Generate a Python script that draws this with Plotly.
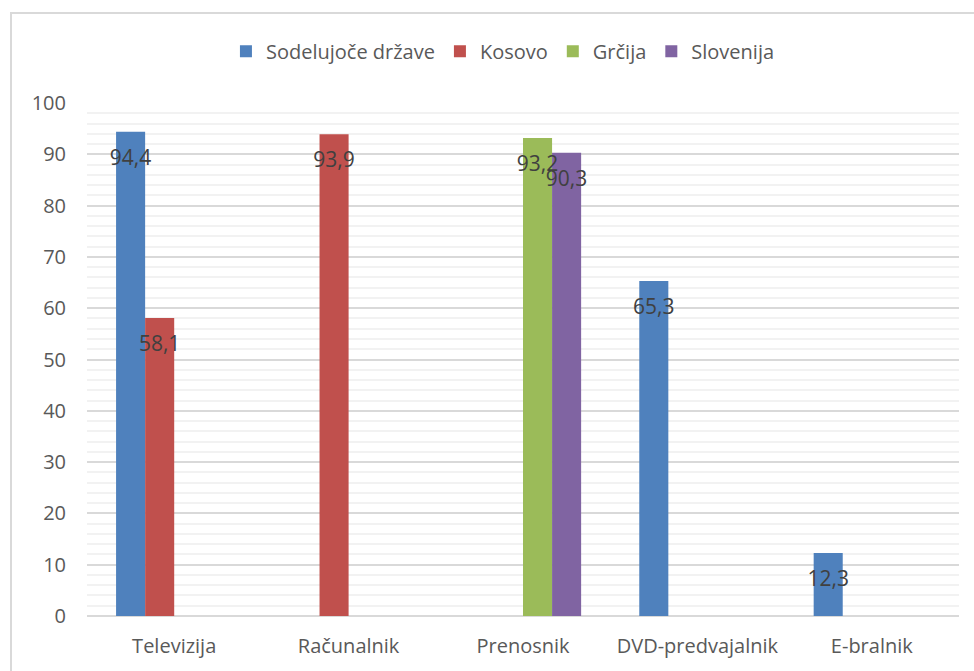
import plotly.graph_objects as go

categories = ["Televizija", "Računalnik", "Prenosnik", "DVD-predvajalnik", "E-bralnik"]
series_names = ["Sodelujoče države", "Kosovo", "Grčija", "Slovenija"]
sodelujoce = [94.4, None, None, 65.3, 12.3]
kosovo = [58.1, 93.9, None, None, None]
grcija = [None, None, 93.2, None, None]
slovenija = [None, None, 90.3, None, None]
series_values = [sodelujoce, kosovo, grcija, slovenija]
colors = ["#4F81BD", "#C0504D", "#9BBB59", "#8064A2"]
y_ticks = [0, 10, 20, 30, 40, 50, 60, 70, 80, 90, 100]

FONT = "Open Sans"
BARGAP = 1 / 3


def fmt(v):
    return "" if v is None else f"{v:.1f}".replace(".", ",")


fig = go.Figure()
for i, (name, vals) in enumerate(zip(series_names, series_values)):
    fig.add_trace(go.Bar(
        x=categories, y=vals, name=name, marker_color=colors[i],
        marker_line_width=0, offsetgroup=str(i),
    ))
for i, (name, vals) in enumerate(zip(series_names, series_values)):
    fig.add_trace(go.Scatter(
        x=categories, y=vals, mode="markers+text",
        text=[fmt(v) for v in vals], textposition="bottom center",
        textfont=dict(family=FONT, size=21, color="#404040"),
        marker=dict(size=26, color="rgba(0,0,0,0)"),
        offsetgroup=str(i), showlegend=False, hoverinfo="skip",
    ))

fig.update_layout(
    width=974, height=671,
    margin=dict(l=87, r=15, t=103, b=55),
    paper_bgcolor="white", plot_bgcolor="white",
    barmode="group", bargap=BARGAP, bargroupgap=0,
    scattermode="group", scattergap=BARGAP,
    font=dict(family=FONT, size=20, color="#595959"),
    legend=dict(orientation="h", x=0.477, xanchor="center", y=1.101, yanchor="middle",
                font=dict(family=FONT, size=20, color="#595959"),
                itemwidth=30, traceorder="normal"),
    showlegend=True,
)
fig.update_xaxes(
    type="category", showgrid=False, showline=False, ticks="",
    ticklabelstandoff=16, tickfont=dict(family=FONT, size=20, color="#595959"),
)
fig.update_yaxes(
    range=[0, 100], tickvals=y_ticks, showgrid=True, gridcolor="#D9D9D9", gridwidth=2,
    zeroline=True, zerolinecolor="#D9D9D9", zerolinewidth=2,
    minor=dict(dtick=2, showgrid=True, gridcolor="#F2F2F2", gridwidth=2),
    ticklabelstandoff=20, tickfont=dict(family=FONT, size=20, color="#595959"),
)
fig.add_shape(type="rect", xref="paper", yref="paper",
              x0=(11 - 87) / 872, x1=1.2, y0=-0.3, y1=(616 - 13) / 513,
              line=dict(color="#D9D9D9", width=2), fillcolor="rgba(0,0,0,0)", layer="below")

fig.write_html("out.html")
